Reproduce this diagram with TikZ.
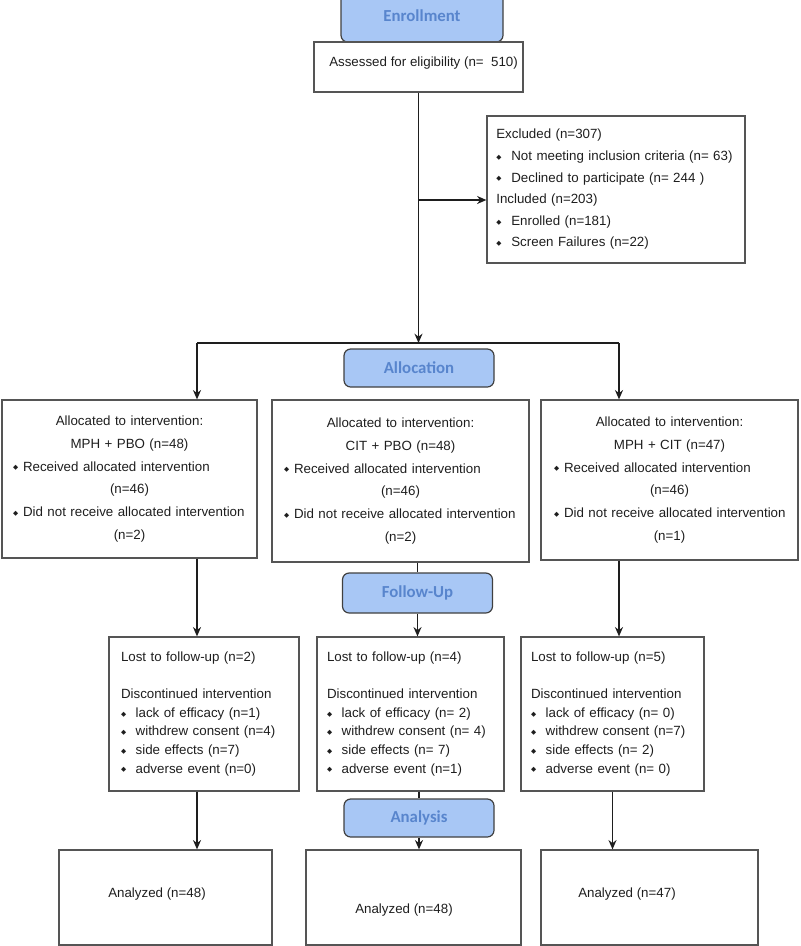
\documentclass[tikz,border=0pt]{standalone}
\usepackage{fontspec}
\setmainfont{Liberation Sans}
\newfontfamily\hdfont{Carlito}
\newfontfamily\symfont{DejaVu Sans}
\usepackage{xcolor}
\usepackage{tikz}
\usetikzlibrary{arrows.meta}
\usetikzlibrary{positioning}

\definecolor{headfill}{RGB}{168,199,245}
\definecolor{headtext}{RGB}{88,133,205}
\definecolor{boxline}{RGB}{85,85,85}
\definecolor{ink}{RGB}{30,30,30}

\newcommand{\bul}[1]{\makebox[#1][l]{\symfont\fontsize{5}{5}\selectfont\raisebox{1pt}{◆}}}
\newcommand{\bitem}[1]{\makebox[\linewidth][l]{\bul{7.5pt}#1}}

\begin{document}
\begin{tikzpicture} [x=0.75pt, y=-0.75pt,
    box/.style={draw=boxline, line width=0.9pt, rectangle, inner ysep=0pt, text=ink},
    header/.style={draw=black!75, line width=0.9pt, rounded corners=5pt, fill=headfill,
      text=headtext, font=\hdfont\bfseries\fontsize{12.6}{15}\selectfont,
      minimum width=112.5pt, minimum height=28.5pt},
    txt/.style={inner sep=0pt, text=ink, font=\fontsize{10}{12}\selectfont},
    link/.style={line width=1.2pt, draw=ink, -{Stealth[length=7pt,width=6pt]}}]
    \useasboundingbox (0,0) rectangle (800,946);

    % phase headers
    \node (enroll) [header, minimum width=121.5pt, minimum height=39pt] at (422,16) {Enrollment};
    \node (alloc) [header] at (419,368) {Allocation};
    \node (follow) [header, minimum height=30pt] at (417.5,593) {Follow-Up};
    \node (analysis) [header] at (419,818) {Analysis};

    % enrollment
    \node (assess) [box, minimum width=156.75pt, minimum height=37.5pt] at (418.5,67) {};
    \node (assesstxt) [txt, anchor=west] at (329,63) {Assessed for eligibility (n=\ \ 510)};
    \node (excl) [box, minimum width=193.5pt, minimum height=110.25pt, inner xsep=7pt,
      text width=179.5pt, align=left, font=\fontsize{10}{16.2}\selectfont] at (616,189.5) {
      Excluded (n=307)\\
      \bul{11.25pt}Not meeting inclusion criteria (n=~63)\\
      \bul{11.25pt}Declined to participate (n=~244~)\\
      Included (n=203)\\
      \bul{11.25pt}Enrolled (n=181)\\
      \bul{11.25pt}Screen Failures (n=22)
    };

    % allocation
    \node (allocL) [box, minimum width=191.25pt, minimum height=118.5pt, inner xsep=8.25pt,
      text width=174.75pt, align=center, font=\fontsize{10}{17.1}\selectfont] at (129.5,479) {
      Allocated to intervention:\\
      MPH + PBO (n=48)\\
      \bitem{Received allocated intervention}\\
      (n=46)\\
      \bitem{Did not receive allocated intervention}\\
      (n=2)
    };
    \node (allocM) [box, minimum width=192.75pt, minimum height=121.5pt, inner xsep=9pt,
      text width=174.75pt, align=center, font=\fontsize{10}{17.1}\selectfont] at (400.5,481) {
      Allocated to intervention:\\
      CIT + PBO (n=48)\\
      \bitem{Received allocated intervention}\\
      (n=46)\\
      \bitem{Did not receive allocated intervention}\\
      (n=2)
    };
    \node (allocR) [box, minimum width=192.75pt, minimum height=120pt, inner xsep=9.75pt,
      text width=173.25pt, align=center, font=\fontsize{10}{17.1}\selectfont] at (669.5,480) {
      Allocated to intervention:\\
      MPH + CIT (n=47)\\
      \bitem{Received allocated intervention}\\
      (n=46)\\
      \bitem{Did not receive allocated intervention}\\
      (n=1)
    };

    % follow-up
    \node (followL) [box, minimum width=142.5pt, minimum height=115.5pt, inner xsep=9pt,
      text width=124.5pt, align=left, font=\fontsize{10}{13.9}\selectfont] at (204,714) {
      Lost to follow-up (n=2)\\[13.9pt]
      Discontinued intervention\\
      \bul{11pt}lack of efficacy (n=1)\\
      \bul{11pt}withdrew consent (n=4)\\
      \bul{11pt}side effects (n=7)\\
      \bul{11pt}adverse event (n=0)
    };
    \node (followM) [box, minimum width=140.25pt, minimum height=115.5pt, inner xsep=7.5pt,
      text width=125.25pt, align=left, font=\fontsize{10}{13.9}\selectfont] at (410.5,714) {
      Lost to follow-up (n=4)\\[13.9pt]
      Discontinued intervention\\
      \bul{11pt}lack of efficacy (n= 2)\\
      \bul{11pt}withdrew consent (n= 4)\\
      \bul{11pt}side effects (n= 7)\\
      \bul{11pt}adverse event (n=1)
    };
    \node (followR) [box, minimum width=137.25pt, minimum height=115.5pt, inner xsep=7.5pt,
      text width=122.25pt, align=left, font=\fontsize{10}{13.9}\selectfont] at (612.5,714) {
      Lost to follow-up (n=5)\\[13.9pt]
      Discontinued intervention\\
      \bul{11pt}lack of efficacy (n= 0)\\
      \bul{11pt}withdrew consent (n=7)\\
      \bul{11pt}side effects (n= 2)\\
      \bul{11pt}adverse event (n= 0)
    };

    % analysis
    \node (anaL) [box, minimum width=159.75pt, minimum height=71.25pt] at (165.5,897.5) {};
    \node (anaM) [box, minimum width=161.25pt, minimum height=71.25pt] at (413.5,897.5) {};
    \node (anaR) [box, minimum width=162.75pt, minimum height=71.25pt] at (649.5,897.5) {};
    \node (anaLtxt) [txt, anchor=west] at (108,894) {Analyzed (n=48)};
    \node (anaMtxt) [txt, anchor=west] at (355,910) {Analyzed (n=48)};
    \node (anaRtxt) [txt, anchor=west] at (578,894) {Analyzed (n=47)};

    % connectors
    \coordinate (jl) at (197,343);
    \coordinate (jr) at (619,343);
    \coordinate (exc) at (418,200);
    \draw [link] (assess.south) -- (assess.south |- jl);
    \draw [link] (exc) -- (exc -| excl.west);
    \draw [line width=1.2pt, draw=ink] (jl) -- (jr);
    \draw [link] (jl) -- (jl |- allocL.north);
    \draw [link] (jr) -- (jr |- allocR.north);
    \draw [link] (jl |- allocL.south) -- (jl |- followL.north);
    \draw [line width=1.2pt, draw=ink] (follow.north |- allocM.south) -- (follow.north);
    \draw [link] (follow.south) -- (follow.south |- followM.north);
    \draw [link] (jr |- allocR.south) -- (jr |- followR.north);
    \draw [link] (jl |- followL.south) -- (jl |- anaL.north);
    \draw [line width=1.2pt, draw=ink] (analysis.north |- followM.south) -- (analysis.north);
    \draw [link] (analysis.south) -- (analysis.south |- anaM.north);
    \draw [link] (followR.south) -- (followR.south |- anaR.north);
  \end{tikzpicture}
\end{document}
